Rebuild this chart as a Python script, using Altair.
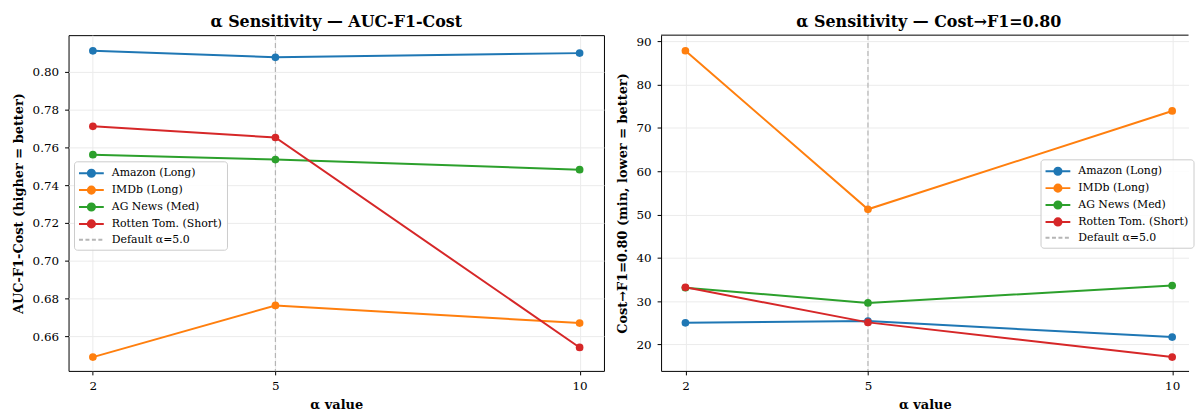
import altair as alt
import pandas as pd

# ---------------- data ----------------
alphas = [2, 5, 10]
series_names = ["Amazon (Long)", "IMDb (Long)", "AG News (Med)", "Rotten Tom. (Short)"]
default_label = "Default α=5.0"
default_alpha = [5]

auc_amazon = [0.811, 0.8076, 0.8098]
auc_imdb = [0.6491, 0.6764, 0.6671]
auc_agnews = [0.7561, 0.7535, 0.7482]
auc_rotten = [0.7711, 0.7652, 0.6542]

cost_amazon = [25.0, 25.4, 21.7]
cost_imdb = [87.8, 51.2, 73.9]
cost_agnews = [33.1, 29.6, 33.6]
cost_rotten = [33.2, 25.1, 17.1]

auc_ticks = [0.66, 0.68, 0.70, 0.72, 0.74, 0.76, 0.78, 0.80]
cost_ticks = [20, 30, 40, 50, 60, 70, 80, 90]

colors = ["#1f77b4", "#ff7f0e", "#2ca02c", "#d62728", "#b5b5b5"]

FONT = "DejaVu Serif"


def long_df(vals):
    rows = []
    for name, v in zip(series_names, vals):
        for a, y in zip(alphas, v):
            rows.append({"alpha": a, "series": name, "value": y})
    return pd.DataFrame(rows)


df_auc = long_df([auc_amazon, auc_imdb, auc_agnews, auc_rotten])
df_cost = long_df([cost_amazon, cost_imdb, cost_agnews, cost_rotten])
df_default = pd.DataFrame({"alpha": default_alpha, "series": [default_label]})

color_domain = series_names + [default_label]

# legend symbols: unit = 6 px (symbolSize 144 -> 12 px box)
SOLID_SYM = ("M-2.08,0H2.08"
             "M0.6,0A0.6,0.6 0 1,1 -0.6,0A0.6,0.6 0 1,1 0.6,0"
             "M0.35,0A0.35,0.35 0 1,1 -0.35,0A0.35,0.35 0 1,1 0.35,0"
             "M0.1,0A0.1,0.1 0 1,1 -0.1,0A0.1,0.1 0 1,1 0.1,0")
LINE_SYM = "M-2.08,0H2.08"


def panel(df, title, ytitle, ydomain, yticks, yfmt, width, xmax, lx, ly, framed, dx):
    xscale = alt.Scale(domain=[1.6, xmax], nice=False, zero=False)
    yscale = alt.Scale(domain=ydomain, nice=False, zero=False)
    xaxis = alt.Axis(values=alphas, title="α value", grid=True, domain=not framed,
                     labelFlush=False, titlePadding=7)
    yaxis = alt.Axis(values=yticks, format=yfmt, title=ytitle, grid=True, domain=not framed,
                     labelFlush=False, titlePadding=7)
    legend = alt.Legend(
        title=None, orient="none", legendX=lx, legendY=ly,
        padding=5, strokeColor="#cccccc", fillColor="rgba(255,255,255,0.85)",
        cornerRadius=3, labelFont=FONT, labelFontSize=11, labelColor="black",
        symbolOffset=5.5, labelOffset=13.5, symbolSize=144, symbolStrokeWidth=2,
        symbolType={"expr": f"datum.label === '{default_label}' ? '{LINE_SYM}' : '{SOLID_SYM}'"},
        symbolDash={"expr": f"datum.label === '{default_label}' ? [4, 2.5] : [100, 0]"},
        rowPadding=1,
    )
    cscale = alt.Scale(domain=color_domain, range=colors)

    rule = alt.Chart(df_default).mark_rule(strokeDash=[5, 3], strokeWidth=1.2).encode(
        x=alt.X("alpha:Q", scale=xscale, axis=xaxis),
        color=alt.Color("series:N", scale=cscale, legend=legend),
    )
    lines = alt.Chart(df).mark_line(strokeWidth=2).encode(
        x=alt.X("alpha:Q", scale=xscale, axis=xaxis),
        y=alt.Y("value:Q", scale=yscale, axis=yaxis),
        color=alt.Color("series:N", scale=cscale, legend=legend),
    )
    points = alt.Chart(df).mark_circle(size=60, opacity=1).encode(
        x=alt.X("alpha:Q", scale=xscale, axis=xaxis),
        y=alt.Y("value:Q", scale=yscale, axis=yaxis),
        color=alt.Color("series:N", scale=cscale, legend=legend),
    )
    layers = [rule, lines, points]
    if not framed:
        top = alt.Chart(df_default).mark_rule(color="black", strokeWidth=1).encode(
            x=alt.value(0), x2=alt.value(width), y=alt.value(0)
        )
        layers.append(top)
    ch = alt.layer(*layers).properties(
        width=width, height=338,
        title=alt.TitleParams(title, offset=5, anchor="middle", dx=dx),
    )
    if not framed:
        ch = ch.properties(view=alt.ViewBackground(stroke="transparent"))
    return ch


left = panel(df_auc, "α Sensitivity — AUC-F1-Cost", "AUC-F1-Cost (higher = better)",
             [0.6418, 0.8193], auc_ticks, ".2f", 539, 10.4, 5.5, 127, True, 0)
right = panel(df_cost, "α Sensitivity — Cost→F1=0.80", "Cost→F1=0.80 (min, lower = better)",
              [13.9, 91.4], cost_ticks, "d", 531, 10.269, 382, 125, False, 4)

chart = alt.hconcat(left, right, spacing=57.5, bounds="flush").resolve_scale(
    x="independent", y="independent", color="independent"
).resolve_legend(color="independent").properties(
    padding={"left": 11, "top": 11, "right": 0, "bottom": 0},
    background="white",
).configure_axis(
    labelFont=FONT, labelFontSize=12, labelColor="black",
    titleFont=FONT, titleFontSize=13, titleFontWeight="bold", titleColor="black",
    tickColor="black", tickSize=4, labelPadding=6,
    gridColor="#ebebeb", gridWidth=1, domainColor="black",
).configure_title(
    font=FONT, fontSize=16, fontWeight="bold", color="black"
).configure_view(stroke="black", strokeWidth=1)

chart.save("out.html", embed_options={"renderer": "svg", "actions": False})
